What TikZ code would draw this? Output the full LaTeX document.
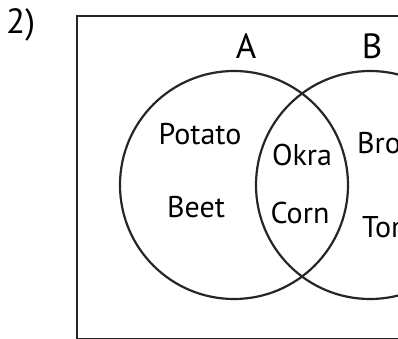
\documentclass[tikz,border=0pt]{standalone}
\usepackage{fontspec}
\setmainfont{PT Sans}
\begin{document}
\begin{tikzpicture}[x=1pt,y=-1pt,
  lbl/.style={inner sep=0pt,font=\fontsize{30}{30}\selectfont,anchor=base},
  big/.style={inner sep=0pt,font=\fontsize{35}{35}\selectfont,anchor=base},
  frame/.style={draw=black!85,line width=2.6pt},
  setc/.style={draw=black!85,line width=2.2pt}]
\useasboundingbox (0,0) rectangle (398,338);
\begin{scope}
\clip (0,0) rectangle (398,338);
\draw[frame] (77,16) rectangle (430,339.6);
\node[setc,circle,minimum size=228pt,inner sep=0pt] (cA) at (234,185) {};
\node[setc,circle,minimum size=228pt,inner sep=0pt] (cB) at (370,185) {};
\node[big] (labA) at (246,58) {A};
\node[big] (labB) at (372,58) {B};
\node[lbl] (potato) at (200,144) {Potato};
\node[lbl] (beet) at (196,217) {Beet};
\node[lbl] (okra) at (302,165) {Okra};
\node[lbl] (corn) at (300,223) {Corn};
\node[lbl,anchor=base west] (broc) at (357,153) {Broccoli};
\node[lbl,anchor=base west] (tom) at (362,237) {Tomato};
\end{scope}
\node[big,anchor=base west] (num) at (6,33) {2)};
\end{tikzpicture}
\end{document}
